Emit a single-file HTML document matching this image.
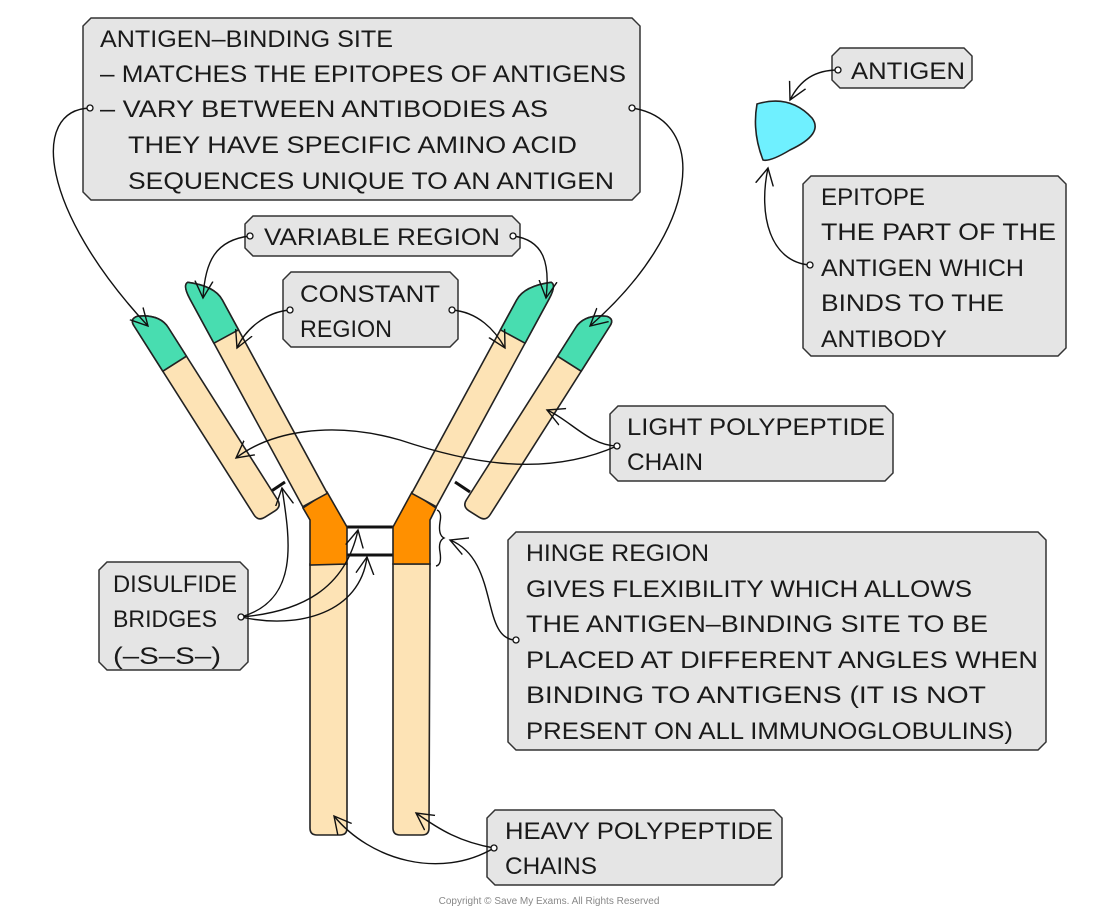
<!DOCTYPE html>
<html><head><meta charset="utf-8"><style>
html,body{margin:0;padding:0;background:#fff;}
svg{display:block;}
text{font-family:"Liberation Sans",sans-serif;font-size:24px;fill:#1a1a1a;}
.box{fill:#e5e5e5;stroke:#333;stroke-width:1.5;}
.c{fill:none;stroke:#111;stroke-width:1.4;}
.o{stroke:#222;stroke-width:1.6;}
</style></head><body>
<svg width="1100" height="913" viewBox="0 0 1100 913" xmlns="http://www.w3.org/2000/svg">
<defs>
<marker id="a" markerWidth="20" markerHeight="20" refX="17" refY="10" orient="auto" markerUnits="userSpaceOnUse">
<path d="M0,1 L17,10 L0,19" fill="none" stroke="#111" stroke-width="1.4"/>
</marker>
</defs>

<polygon class="box" points="91,18 632,18 640,26 640,192 632,200 91,200 83,192 83,26"/>
<polygon class="box" points="253,216 512,216 520,224 520,248 512,256 253,256 245,248 245,224"/>
<polygon class="box" points="291,272 450,272 458,280 458,339 450,347 291,347 283,339 283,280"/>
<polygon class="box" points="840,48 964,48 972,56 972,80 964,88 840,88 832,80 832,56"/>
<polygon class="box" points="811,176 1058,176 1066,184 1066,348 1058,356 811,356 803,348 803,184"/>
<polygon class="box" points="618,406 885,406 893,414 893,473 885,481 618,481 610,473 610,414"/>
<polygon class="box" points="516,532 1038,532 1046,540 1046,742 1038,750 516,750 508,742 508,540"/>
<polygon class="box" points="107,562 240,562 248,570 248,662 240,670 107,670 99,662 99,570"/>
<polygon class="box" points="495,810 774,810 782,818 782,877 774,885 495,885 487,877 487,818"/>

<g transform="translate(0,1)">
<text x="100" y="46" textLength="293" lengthAdjust="spacingAndGlyphs">ANTIGEN–BINDING SITE</text>
<text x="100" y="81" textLength="526" lengthAdjust="spacingAndGlyphs">– MATCHES THE EPITOPES OF ANTIGENS</text>
<text x="100" y="116" textLength="448" lengthAdjust="spacingAndGlyphs">– VARY BETWEEN ANTIBODIES AS</text>
<text x="128" y="152" textLength="449" lengthAdjust="spacingAndGlyphs">THEY HAVE SPECIFIC AMINO ACID</text>
<text x="128" y="188" textLength="486" lengthAdjust="spacingAndGlyphs">SEQUENCES UNIQUE TO AN ANTIGEN</text>
<text x="264" y="244" textLength="236" lengthAdjust="spacingAndGlyphs">VARIABLE REGION</text>
<text x="300" y="301" textLength="140" lengthAdjust="spacingAndGlyphs">CONSTANT</text>
<text x="300" y="336" textLength="92" lengthAdjust="spacingAndGlyphs">REGION</text>
<text x="851" y="78" textLength="114" lengthAdjust="spacingAndGlyphs">ANTIGEN</text>
<text x="821" y="204" textLength="104" lengthAdjust="spacingAndGlyphs">EPITOPE</text>
<text x="821" y="239" textLength="235" lengthAdjust="spacingAndGlyphs">THE PART OF THE</text>
<text x="821" y="275" textLength="203" lengthAdjust="spacingAndGlyphs">ANTIGEN WHICH</text>
<text x="821" y="310" textLength="183" lengthAdjust="spacingAndGlyphs">BINDS TO THE</text>
<text x="821" y="346" textLength="126" lengthAdjust="spacingAndGlyphs">ANTIBODY</text>
<text x="627" y="434" textLength="258" lengthAdjust="spacingAndGlyphs">LIGHT POLYPEPTIDE</text>
<text x="627" y="469" textLength="76" lengthAdjust="spacingAndGlyphs">CHAIN</text>
<text x="113" y="591" textLength="124" lengthAdjust="spacingAndGlyphs">DISULFIDE</text>
<text x="113" y="626" textLength="104" lengthAdjust="spacingAndGlyphs">BRIDGES</text>
<text x="113" y="663" textLength="108" lengthAdjust="spacingAndGlyphs">(–S–S–)</text>
<text x="526" y="560" textLength="183" lengthAdjust="spacingAndGlyphs">HINGE REGION</text>
<text x="526" y="596" textLength="446" lengthAdjust="spacingAndGlyphs">GIVES FLEXIBILITY WHICH ALLOWS</text>
<text x="526" y="631" textLength="462" lengthAdjust="spacingAndGlyphs">THE ANTIGEN–BINDING SITE TO BE</text>
<text x="526" y="667" textLength="512" lengthAdjust="spacingAndGlyphs">PLACED AT DIFFERENT ANGLES WHEN</text>
<text x="526" y="702" textLength="460" lengthAdjust="spacingAndGlyphs">BINDING TO ANTIGENS (IT IS NOT</text>
<text x="526" y="738" textLength="487" lengthAdjust="spacingAndGlyphs">PRESENT ON ALL IMMUNOGLOBULINS)</text>
<text x="505" y="838" textLength="268" lengthAdjust="spacingAndGlyphs">HEAVY POLYPEPTIDE</text>
<text x="505" y="873" textLength="92" lengthAdjust="spacingAndGlyphs">CHAINS</text>
</g>
<text x="549" y="904" text-anchor="middle" style="font-size:10px;fill:#888">Copyright © Save My Exams. All Rights Reserved</text>

<line x1="270" y1="492" x2="285" y2="482" stroke="#111" stroke-width="3"/>
<line x1="455" y1="482" x2="470" y2="492" stroke="#111" stroke-width="3"/>
<line x1="346" y1="527" x2="394" y2="527" stroke="#111" stroke-width="3"/>
<line x1="346" y1="555" x2="394" y2="555" stroke="#111" stroke-width="3"/>

<path d="M310,564 L347,564 L347,828 Q347,835 340,835 L317,835 Q310,835 310,828 Z" fill="#fde3b5" class="o"/>
<path d="M393,564 L430,564 L429,828 Q429,835 422,835 L400,835 Q393,835 393,828 Z" fill="#fde3b5" class="o"/>
<path d="M303,508 L327,492 L347,527 L347,564 L310,565 L310,520 Z" fill="#ff9000" class="o"/>
<path d="M393,527 L412,492 L436,508 L430,520 L430,564 L393,564 Z" fill="#ff9000" class="o"/>

<g transform="translate(315,500) rotate(-28.5)">
<path d="M-14,0 L-14,-236 Q-14,-252 -8,-252 Q14,-236 14,-220 L14,0 Z" fill="#fde3b5" class="o"/>
<path d="M-14,-186 L-14,-236 Q-14,-252 -8,-252 Q14,-236 14,-220 L14,-186 Z" fill="#48ddb0" class="o"/>
</g>
<g transform="translate(424,500) rotate(28.5)">
<path d="M14,0 L14,-236 Q14,-252 8,-252 Q-14,-236 -14,-220 L-14,0 Z" fill="#fde3b5" class="o"/>
<path d="M14,-186 L14,-236 Q14,-252 8,-252 Q-14,-236 -14,-220 L-14,-186 Z" fill="#48ddb0" class="o"/>
</g>
<g transform="translate(270,514) rotate(-32.4)">
<path d="M-14,-8 L-14,-232 Q-14,-240 -6,-238 Q14,-228 14,-212 L14,-8 Q14,0 6,0 L-6,0 Q-14,0 -14,-8 Z" fill="#fde3b5" class="o"/>
<path d="M-14,-178 L-14,-232 Q-14,-240 -6,-238 Q14,-228 14,-212 L14,-178 Z" fill="#48ddb0" class="o"/>
</g>
<g transform="translate(474,514) rotate(32.4)">
<path d="M14,-8 L14,-232 Q14,-240 6,-238 Q-14,-228 -14,-212 L-14,-8 Q-14,0 -6,0 L6,0 Q14,0 14,-8 Z" fill="#fde3b5" class="o"/>
<path d="M14,-178 L14,-232 Q14,-240 6,-238 Q-14,-228 -14,-212 L-14,-178 Z" fill="#48ddb0" class="o"/>
</g>

<path d="M757,104 Q790,94 812,118 Q824,134 790,150 Q770,162 763,160 Q752,132 757,104 Z" fill="#6ff0ff" class="o"/>

<path d="M437,510 Q442,512 440,522 Q438,535 444,538 Q438,541 440,552 Q442,565 436,566" class="c"/>

<path class="c" marker-end="url(#a)" d="M90,108 C30,110 40,210 148,326"/>
<path class="c" marker-end="url(#a)" d="M632,108 C710,120 700,230 590,326"/>
<path class="c" marker-end="url(#a)" d="M250,236 C215,240 205,262 203,298"/>
<path class="c" marker-end="url(#a)" d="M513,236 C545,240 550,265 546,298"/>
<path class="c" marker-end="url(#a)" d="M290,310 C265,312 245,330 237,348"/>
<path class="c" marker-end="url(#a)" d="M452,310 C478,312 495,330 505,348"/>
<path class="c" marker-end="url(#a)" d="M838,70 C815,70 800,80 790,100"/>
<path class="c" marker-end="url(#a)" d="M810,265 C770,262 758,215 768,168"/>
<path class="c" marker-end="url(#a)" d="M617,446 C590,446 570,420 547,410"/>
<path class="c" marker-end="url(#a)" d="M617,446 C540,480 460,460 400,440 C330,420 270,432 236,458"/>
<path class="c" marker-end="url(#a)" d="M241,617 C300,600 290,540 282,488"/>
<path class="c" marker-end="url(#a)" d="M241,617 C300,612 345,590 358,530"/>
<path class="c" marker-end="url(#a)" d="M241,617 C300,630 360,612 367,557"/>
<path class="c" marker-end="url(#a)" d="M516,640 C480,640 500,560 450,540"/>
<path class="c" marker-end="url(#a)" d="M494,848 C440,880 370,860 334,816"/>
<path class="c" marker-end="url(#a)" d="M494,848 C460,842 440,830 416,813"/>

<g fill="#fff" stroke="#111" stroke-width="1.3">
<circle cx="90" cy="108" r="3"/><circle cx="632" cy="108" r="3"/>
<circle cx="250" cy="236" r="3"/><circle cx="513" cy="236" r="3"/>
<circle cx="290" cy="310" r="3"/><circle cx="452" cy="310" r="3"/>
<circle cx="838" cy="70" r="3"/><circle cx="810" cy="265" r="3"/>
<circle cx="617" cy="446" r="3"/><circle cx="241" cy="617" r="3"/>
<circle cx="516" cy="640" r="3"/><circle cx="494" cy="848" r="3"/>
</g>
</svg>
</body></html>
